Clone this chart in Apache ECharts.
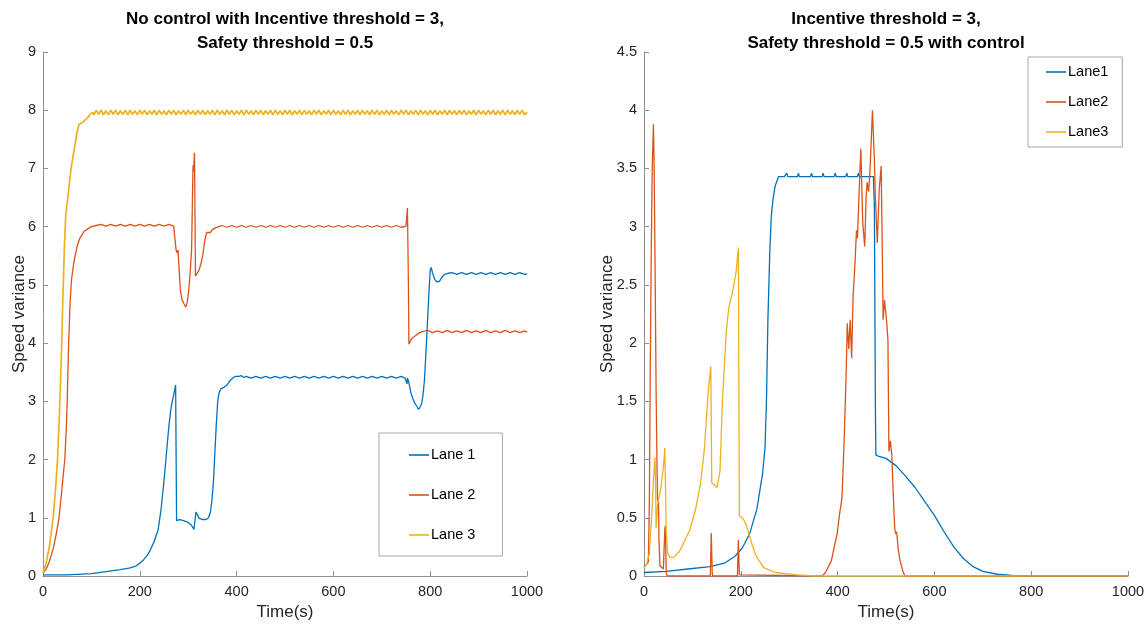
<!DOCTYPE html>
<html>
<head>
<meta charset="utf-8">
<script src="https://cdn.jsdelivr.net/npm/echarts@6/dist/echarts.min.js"></script>
<style>
  html, body { margin: 0; padding: 0; background: #fff; }
  #chart { width: 1148px; height: 626px; }
</style>
</head>
<body>
<div id="chart"></div>
<script>
// ---- data: [time(s), speed variance] ----
// left panel: no control
var noCtrlLane1 = [[0,0.02],[50,0.02],[100,0.04],[134,0.08],[160,0.11],[180,0.14],[192,0.17],[200,0.22],[208,0.28],[215,0.35],[222,0.45],[230,0.6],[238,0.8],[244,1.15],[249,1.55],[255,2.1],[260,2.57],[264,2.85],[267,3.0],[271,3.15],[274,3.28],[276,0.95],[282,0.97],[287,0.96],[294,0.94],[300,0.92],[306,0.88],[310,0.85],[312,0.8],[313,0.88],[316,1.1],[319,1.05],[323,0.99],[330,0.97],[337,0.97],[342,1.0],[346,1.1],[349,1.3],[352,1.6],[355,2.1],[358,2.6],[361,3.0],[364,3.15],[368,3.22],[374,3.24],[380,3.28],[386,3.35],[392,3.4],[398,3.43],[405,3.43],[410,3.44],[415,3.41],
  [420,3.43],[430,3.40],[440,3.43],[450,3.40],[460,3.43],[470,3.40],[480,3.43],[490,3.40],[500,3.43],[510,3.40],[520,3.43],[530,3.40],[540,3.43],[550,3.40],[560,3.43],[570,3.40],[580,3.43],[590,3.40],[600,3.43],[610,3.40],[620,3.43],[630,3.40],[640,3.43],[650,3.40],[660,3.43],[670,3.40],[680,3.43],[690,3.40],[700,3.43],[710,3.40],[720,3.43],[730,3.40],[740,3.43],[748,3.40],
  [751,3.42],[752,3.3],[753,3.4],[756,3.32],[760,3.15],[764,3.05],[768,2.97],[772,2.92],[776,2.86],[779,2.88],[782,2.95],[785,3.1],[788,3.35],[791,3.8],[794,4.3],[797,4.8],[800,5.25],[802,5.3],[805,5.2],[809,5.1],[814,5.05],[819,5.06],[824,5.13],[830,5.18],[838,5.2],
  [845,5.21],[855,5.18],[865,5.21],[875,5.18],[885,5.21],[895,5.18],[905,5.21],[915,5.18],[925,5.21],[935,5.18],[945,5.21],[955,5.18],[965,5.21],[975,5.18],[985,5.21],[995,5.18],[1000,5.19]];

var noCtrlLane2 = [[0,0.05],[5,0.1],[11,0.2],[17,0.35],[22,0.5],[28,0.75],[33,1.0],[38,1.4],[42,1.75],[45,2.0],[48,2.5],[50,3.0],[53,4.0],[56,4.7],[59,5.1],[64,5.4],[70,5.65],[76,5.8],[85,5.92],[100,6.0],[110,6.02],
  [120,6.04],[130,6.01],[140,6.04],[150,6.01],[160,6.04],[170,6.01],[180,6.04],[190,6.01],[200,6.04],[210,6.01],[220,6.04],[230,6.01],[240,6.04],[250,6.01],[260,6.04],[270,6.01],
  [274,6.03],[275,5.6],[277,5.55],[279,5.6],[281,5.3],[284,4.9],[287,4.75],[291,4.68],[295,4.62],[298,4.7],[301,4.9],[304,5.2],[307,5.6],[309,6.6],[310,7.05],[311,6.95],[313,7.27],[315,5.15],[318,5.15],[322,5.25],[326,5.35],[330,5.5],[334,5.75],[338,5.9],[342,5.93],[346,5.9],[350,5.95],[356,5.98],[364,6.0],
  [370,6.02],[380,5.99],[390,6.02],[400,5.99],[410,6.02],[420,5.99],[430,6.02],[440,5.99],[450,6.02],[460,5.99],[470,6.02],[480,5.99],[490,6.02],[500,5.99],[510,6.02],[520,5.99],[530,6.02],[540,5.99],[550,6.02],[560,5.99],[570,6.02],[580,5.99],[590,6.02],[600,5.99],[610,6.02],[620,5.99],[630,6.02],[640,5.99],[650,6.02],[660,5.99],[670,6.02],[680,5.99],[690,6.02],[700,5.99],[710,6.02],[720,5.99],[730,6.02],[740,5.99],[750,6.01],
  [752,6.0],[753,6.32],[755,5.0],[756,3.98],[760,4.05],[765,4.1],[770,4.13],[778,4.18],[786,4.2],
  [795,4.22],[805,4.18],[815,4.21],[825,4.18],[835,4.22],[845,4.18],[855,4.21],[865,4.18],[875,4.22],[885,4.18],[895,4.21],[905,4.18],[915,4.22],[925,4.18],[935,4.21],[945,4.18],[955,4.22],[965,4.18],[975,4.21],[985,4.18],[995,4.21],[1000,4.19]];

var noCtrlLane3 = [[0,0.05],[6,0.2],[13,0.5],[21,1],[26,1.5],[30,2],[34,2.8],[38,3.8],[41,4.75],[44,5.6],[47,6.2],[52,6.55],[58,7.0],[64,7.3],[70,7.6],[74,7.75],[78,7.77],[83,7.8],[88,7.84],[93,7.88],[98,7.94],[103,7.96],
  [105,7.92],[110,8.0],[115,7.93],[120,8.0],[125,7.92],[130,7.99],[135,7.92],[140,8.0],[145,7.93],[150,8.0],[155,7.92],[160,7.99],[165,7.93],[170,8.0],[175,7.92],[180,8.0],[185,7.93],[190,7.99],[195,7.92],[200,8.0],
  [205,7.93],[210,8.0],[215,7.92],[220,7.99],[225,7.93],[230,8.0],[235,7.92],[240,8.0],[245,7.93],[250,7.99],[255,7.92],[260,8.0],[265,7.93],[270,8.0],[275,7.92],[280,7.99],[285,7.93],[290,8.0],[295,7.92],[300,8.0],
  [305,7.93],[310,7.99],[315,7.92],[320,8.0],[325,7.93],[330,8.0],[335,7.92],[340,7.99],[345,7.93],[350,8.0],[355,7.92],[360,8.0],[365,7.93],[370,7.99],[375,7.92],[380,8.0],[385,7.93],[390,8.0],[395,7.92],[400,7.99],
  [405,7.93],[410,8.0],[415,7.92],[420,8.0],[425,7.93],[430,7.99],[435,7.92],[440,8.0],[445,7.93],[450,8.0],[455,7.92],[460,7.99],[465,7.93],[470,8.0],[475,7.92],[480,8.0],[485,7.93],[490,7.99],[495,7.92],[500,8.0],
  [505,7.93],[510,8.0],[515,7.92],[520,7.99],[525,7.93],[530,8.0],[535,7.92],[540,8.0],[545,7.93],[550,7.99],[555,7.92],[560,8.0],[565,7.93],[570,8.0],[575,7.92],[580,7.99],[585,7.93],[590,8.0],[595,7.92],[600,8.0],
  [605,7.93],[610,7.99],[615,7.92],[620,8.0],[625,7.93],[630,8.0],[635,7.92],[640,7.99],[645,7.93],[650,8.0],[655,7.92],[660,8.0],[665,7.93],[670,7.99],[675,7.92],[680,8.0],[685,7.93],[690,8.0],[695,7.92],[700,7.99],
  [705,7.93],[710,8.0],[715,7.92],[720,8.0],[725,7.93],[730,7.99],[735,7.92],[740,8.0],[745,7.93],[750,8.0],[755,7.92],[760,7.99],[765,7.93],[770,8.0],[775,7.92],[780,8.0],[785,7.93],[790,7.99],[795,7.92],[800,8.0],
  [805,7.93],[810,8.0],[815,7.92],[820,7.99],[825,7.93],[830,8.0],[835,7.92],[840,8.0],[845,7.93],[850,7.99],[855,7.92],[860,8.0],[865,7.93],[870,8.0],[875,7.92],[880,7.99],[885,7.93],[890,8.0],[895,7.92],[900,8.0],
  [905,7.93],[910,7.99],[915,7.92],[920,8.0],[925,7.93],[930,8.0],[935,7.92],[940,7.99],[945,7.93],[950,8.0],[955,7.92],[960,8.0],[965,7.93],[970,7.99],[975,7.92],[980,8.0],[985,7.93],[990,8.0],[995,7.92],[1000,7.97]];

// right panel: with control
var ctrlLane1 = [[0,0.03],[46,0.04],[91,0.06],[136,0.08],[166,0.11],[188,0.17],[203,0.24],[218,0.36],[233,0.57],[245,0.88],[250,1.1],[253,1.5],[256,2.2],[258,2.5],[260,2.8],[263,3.09],[267,3.25],[271,3.35],[278,3.43],[290,3.43],[295,3.46],[297,3.43],[317,3.43],[319,3.46],[321,3.43],[344,3.43],[346,3.46],[348,3.43],[368,3.43],[370,3.46],[372,3.43],[393,3.43],[395,3.46],[397,3.43],[417,3.43],[419,3.46],[421,3.43],[441,3.43],[443,3.46],[445,3.43],[474,3.43],[476,3.17],[478,1.5],[479,1.04],[484,1.03],[500,1.01],[520,0.95],[540,0.86],[560,0.76],[580,0.64],[600,0.52],[620,0.38],[640,0.25],[660,0.15],[680,0.08],[700,0.04],[730,0.015],[760,0.005],[800,0],[1000,0]];

var ctrlLane2 = [[0,0.08],[5,0.1],[9,0.12],[11,0.6],[13,1.8],[15,2.8],[17,3.5],[19.5,3.88],[21,3.5],[23,2.6],[25,1.6],[27,0.9],[28,0.66],[30,0.64],[31,0.3],[33,0.09],[40,0.06],[43,0.4],[44,0.43],[46,0.02],[48,0],[137,0],[139,0.37],[141,0.02],[142,0],[193,0],[195,0.31],[197,0.01],[198,0],[368,0],[375,0.03],[387,0.13],[394,0.27],[399,0.36],[404,0.53],[409,0.67],[413,1.1],[416,1.5],[418,1.8],[420,2.17],[423,1.95],[426,2.2],[429,1.87],[432,2.4],[436,2.69],[439,2.97],[441,2.9],[445,3.35],[448,3.67],[452,3.03],[456,2.83],[459,3.26],[461,3.38],[464,3.3],[467,3.49],[472,4.0],[476,3.57],[478,3.26],[482,2.86],[486,3.32],[490,3.52],[492,2.9],[494,2.2],[497,2.37],[501,2.2],[504,2.03],[506,1.07],[509,1.16],[512,1.04],[515,0.7],[518,0.41],[520,0.36],[522,0.38],[525,0.24],[529,0.13],[535,0.04],[539,0],[1000,0]];

var ctrlLane3 = [[0,0.07],[5,0.1],[11,0.19],[16,0.53],[20,0.85],[22.7,1.02],[24,0.78],[25,0.41],[28,0.61],[35,0.76],[40,0.93],[43,1.1],[46,0.38],[49,0.19],[54,0.16],[61,0.16],[73,0.21],[84,0.3],[95,0.4],[106,0.56],[117,0.8],[125,1.1],[132,1.55],[138,1.8],[140,0.8],[144,0.79],[151,0.76],[157,0.9],[162,1.5],[170,2.1],[175,2.3],[182,2.42],[190,2.6],[195,2.82],[197,0.52],[205,0.49],[211,0.44],[217,0.36],[224,0.26],[233,0.16],[248,0.07],[271,0.03],[316,0.01],[353,0],[1000,0]];

var timeTicks = { min: 0, max: 1000, interval: 200 };
var leftY = { min: 0, max: 9, interval: 1 };
var rightY = { min: 0, max: 4.5, interval: 0.5 };

var colors = ['#0072BD', '#D95319', '#EDB120'];
var FONT = '"Liberation Sans", Arial, sans-serif';

function plain(v) { return String(v) }

function xAxis(gridIndex) {
    return {
        type: 'value', gridIndex: gridIndex,
        min: timeTicks.min, max: timeTicks.max, interval: timeTicks.interval,
        name: 'Time(s)', nameLocation: 'middle', nameGap: 28,
        nameTextStyle: { fontFamily: FONT, fontSize: 17, color: '#262626' },
        axisLine: { lineStyle: { color: '#8f8f8f', width: 1 } },
        axisTick: { inside: true, length: 5, lineStyle: { color: '#8f8f8f' } },
        axisLabel: { fontFamily: FONT, fontSize: 14.5, color: '#262626', margin: 8, formatter: plain },
        splitLine: { show: false }
    }
}
function yAxis(gridIndex, r, gap) {
    return {
        type: 'value', gridIndex: gridIndex,
        min: r.min, max: r.max, interval: r.interval,
        name: 'Speed variance', nameLocation: 'middle', nameGap: gap, nameMoveOverlap: false,
        nameTextStyle: { fontFamily: FONT, fontSize: 17, color: '#262626' },
        axisLine: { show: true, lineStyle: { color: '#8f8f8f', width: 1 } },
        axisTick: { show: true, inside: true, length: 5, lineStyle: { color: '#8f8f8f' } },
        axisLabel: { fontFamily: FONT, fontSize: 14.5, color: '#262626', margin: 7, formatter: plain },
        splitLine: { show: false }
    }
}
function lane(name, data, idx, colorIdx, width) {
    return {
        name: name, type: 'line', data: data,
        xAxisIndex: idx, yAxisIndex: idx,
        symbol: 'none', color: colors[colorIdx],
        lineStyle: { width: width || 1.3, color: colors[colorIdx] }
    }
}
function titleText(x, text) {
    return {
        type: 'text', x: x, y: 7,
        style: { text: text, textAlign: 'center', fill: '#000', font: 'bold 17px ' + FONT, lineHeight: 24 }
    }
}
function legendBox(names, left, top, padding, gap) {
    return {
        data: names, orient: 'vertical',
        left: left, top: top, padding: padding, itemGap: gap,
        icon: 'rect', itemWidth: 20, itemHeight: 1.6,
        borderColor: '#a6a6a6', borderWidth: 1, backgroundColor: '#fff',
        textStyle: { fontFamily: FONT, fontSize: 14.5, color: '#000', lineHeight: 16, padding: [0, 0, 0, -3] }
    }
}

var chart = echarts.init(document.getElementById('chart'));
chart.setOption({
    animation: false,
    backgroundColor: '#fff',
    grid: [
        { left: 43, top: 52, width: 484, height: 525 },
        { left: 644, top: 52, width: 484, height: 525 }
    ],
    xAxis: [xAxis(0), xAxis(1)],
    yAxis: [yAxis(0, leftY, 15), yAxis(1, rightY, 28)],
    legend: [
        legendBox(['Lane 1', 'Lane 2', 'Lane 3'], 379, 433, [14, 27, 13, 30], 24),
        legendBox(['Lane1', 'Lane2', 'Lane3'], 1028, 57, [7, 14, 7, 18], 14)
    ],
    graphic: [
        titleText(285, 'No control with Incentive threshold = 3,\nSafety threshold = 0.5'),
        titleText(886, 'Incentive threshold = 3,\nSafety threshold = 0.5 with control')
    ],
    series: [
        lane('Lane 1', noCtrlLane1, 0, 0),
        lane('Lane 2', noCtrlLane2, 0, 1),
        lane('Lane 3', noCtrlLane3, 0, 2, 1.7),
        lane('Lane1', ctrlLane1, 1, 0),
        lane('Lane2', ctrlLane2, 1, 1),
        lane('Lane3', ctrlLane3, 1, 2)
    ]
});
</script>
</body>
</html>
